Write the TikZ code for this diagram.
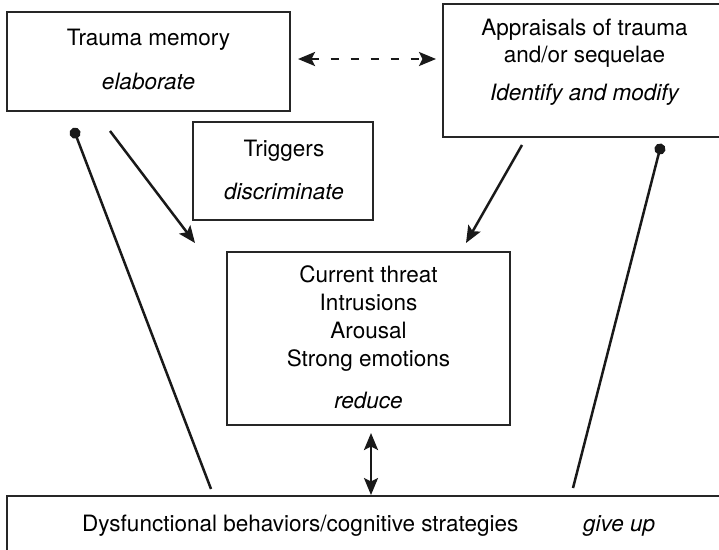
\documentclass[tikz,border=0pt]{standalone}
\usepackage{fontspec}
\setmainfont{TeX Gyre Heros}
\usetikzlibrary{arrows.meta}
\begin{document}
\begin{tikzpicture}[x=1pt,y=-1pt,
  boxline/.style={draw=black!85, line width=1.1pt, inner sep=0pt, outer sep=0pt},
  txt/.style={anchor=base, inner sep=0pt, font=\fontsize{22.5}{27}\selectfont},
  itx/.style={anchor=base, inner sep=0pt, font=\fontsize{22.5}{27}\selectfont\itshape},
  conn/.style={line width=2.5pt, draw=black!90},
  onetip/.style={-{Stealth[length=17pt,width=14pt,inset=3.5pt]}},
  twotip/.style={{Stealth[length=17pt,width=14pt,inset=3.5pt]}-{Stealth[length=17pt,width=14pt,inset=3.5pt]}},
  balltip/.style={{Circle[length=11pt,width=11pt]}-}]
\useasboundingbox (0,0) rectangle (719,549);

% boxes
\node[boxline, minimum width=283pt, minimum height=99pt] (tm) at (148.5,61.5) {};
\node[boxline, minimum width=283pt, minimum height=133pt] (ap) at (584.5,70.5) {};
\node[boxline, minimum width=180pt, minimum height=98pt] (tr) at (283,171) {};
\node[boxline, minimum width=283pt, minimum height=173pt] (ct) at (368.5,338.5) {};
\node[boxline, minimum width=780pt, minimum height=120pt] (db) at (397,556) {};

% texts
\node[txt] (tm1) at (148.5,45) {Trauma memory};
\node[itx] (tm2) at (148.5,89) {elaborate};
\node[txt] (ap1) at (584.5,35) {Appraisals of trauma};
\node[txt] (ap2) at (584.5,62) {and/or sequelae};
\node[itx] (ap3) at (584.5,100) {Identify and modify};
\node[txt] (tr1) at (284,156) {Triggers};
\node[itx] (tr2) at (284,199) {discriminate};
\node[txt] (ct1) at (368.5,282) {Current threat};
\node[txt] (ct2) at (368.5,310) {Intrusions};
\node[txt] (ct3) at (368.5,338) {Arousal};
\node[txt] (ct4) at (368.5,366) {Strong emotions};
\node[itx] (ct5) at (368.5,408) {reduce};
\node[txt, anchor=base west] (db1) at (82,531.5) {Dysfunctional behaviors/cognitive strategies};
\node[itx, anchor=base west] (db2) at (583,531.5) {give up};

% connector ends
\coordinate (d1) at (298,59);
\coordinate (d2) at (436,59);
\coordinate (la1) at (110,131);
\coordinate (la2) at (195,243);
\coordinate (ra1) at (522,145);
\coordinate (ra2) at (466,243);
\coordinate (lb1) at (73.1,128);
\coordinate (lb2) at (211,489);
\coordinate (rb1) at (661.3,143.7);
\coordinate (rb2) at (573,488);
\coordinate (v1) at (371,433);
\coordinate (v2) at (371,495);

% connectors
\draw[conn, twotip, dash pattern=on 8pt off 12pt] (d1) -- (d2);
\draw[conn, onetip] (la1) -- (la2);
\draw[conn, onetip] (ra1) -- (ra2);
\draw[conn, balltip] (lb1) -- (lb2);
\draw[conn, balltip] (rb1) -- (rb2);
\draw[conn, twotip] (v1) -- (v2);
\end{tikzpicture}
\end{document}
